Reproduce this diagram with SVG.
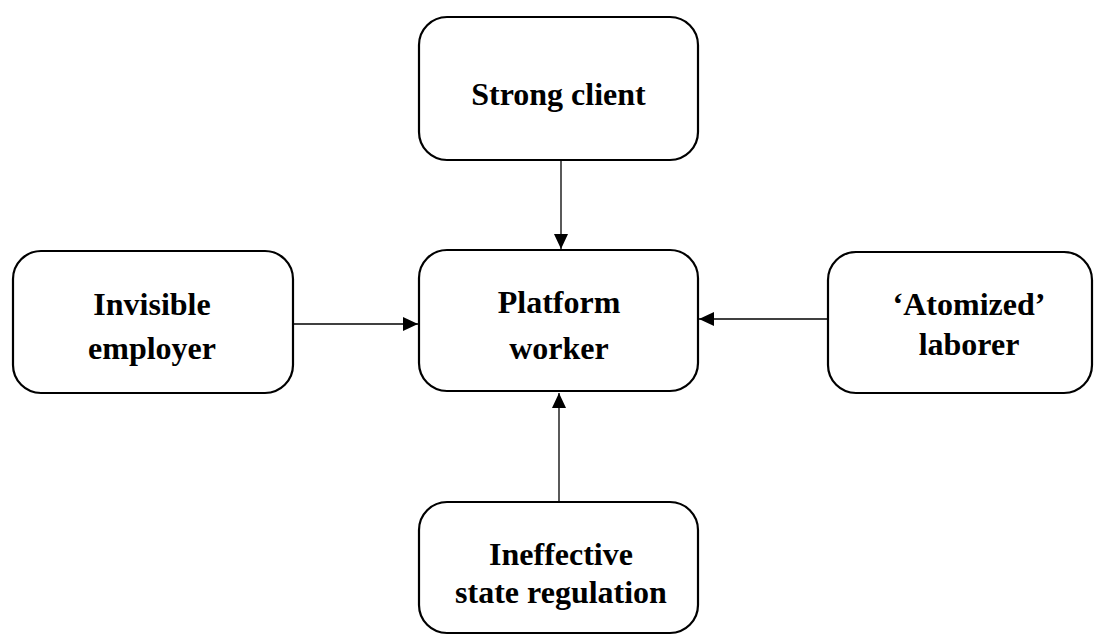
<svg xmlns="http://www.w3.org/2000/svg" width="1097" height="640" viewBox="0 0 1097 640">
<style>
.box{fill:#fff;stroke:#000;stroke-width:2.2}
.lbl{font-family:"Liberation Serif","Times New Roman",serif;font-weight:bold;font-size:32px;text-anchor:middle;fill:#000}
.conn{stroke:#000;stroke-width:1.3;fill:none}
</style>
<defs>
<marker id="ah" markerWidth="15" markerHeight="14" viewBox="0 0 15 14" refX="15" refY="7" orient="auto" markerUnits="userSpaceOnUse">
<path d="M0,0 L15,7 L0,14 Z" fill="#000"/>
</marker>
</defs>
<rect width="1097" height="640" fill="#fff"/>
<g id="connectors">
<line class="conn" x1="561" y1="160" x2="561" y2="249" marker-end="url(#ah)"/>
<line class="conn" x1="293" y1="324" x2="418" y2="324" marker-end="url(#ah)"/>
<line class="conn" x1="828" y1="319" x2="699" y2="319" marker-end="url(#ah)"/>
<line class="conn" x1="559" y1="502" x2="559" y2="393" marker-end="url(#ah)"/>
</g>
<g id="strong-client">
<rect class="box" x="419" y="17" width="279" height="143" rx="28"/>
<text class="lbl" x="558.5" y="105">Strong client</text>
</g>
<g id="platform-worker">
<rect class="box" x="419" y="250" width="279" height="141" rx="28"/>
<text class="lbl" x="559" y="313">Platform</text>
<text class="lbl" x="559" y="359">worker</text>
</g>
<g id="invisible-employer">
<rect class="box" x="13" y="251" width="280" height="142" rx="28"/>
<text class="lbl" x="152" y="315">Invisible</text>
<text class="lbl" x="152" y="359">employer</text>
</g>
<g id="atomized-laborer">
<rect class="box" x="828" y="252" width="264" height="141" rx="28"/>
<text class="lbl" x="969" y="315">‘Atomized’</text>
<text class="lbl" x="969" y="355">laborer</text>
</g>
<g id="ineffective-regulation">
<rect class="box" x="419" y="502" width="279" height="131" rx="28"/>
<text class="lbl" x="561" y="565">Ineffective</text>
<text class="lbl" x="561" y="603">state regulation</text>
</g>
</svg>
